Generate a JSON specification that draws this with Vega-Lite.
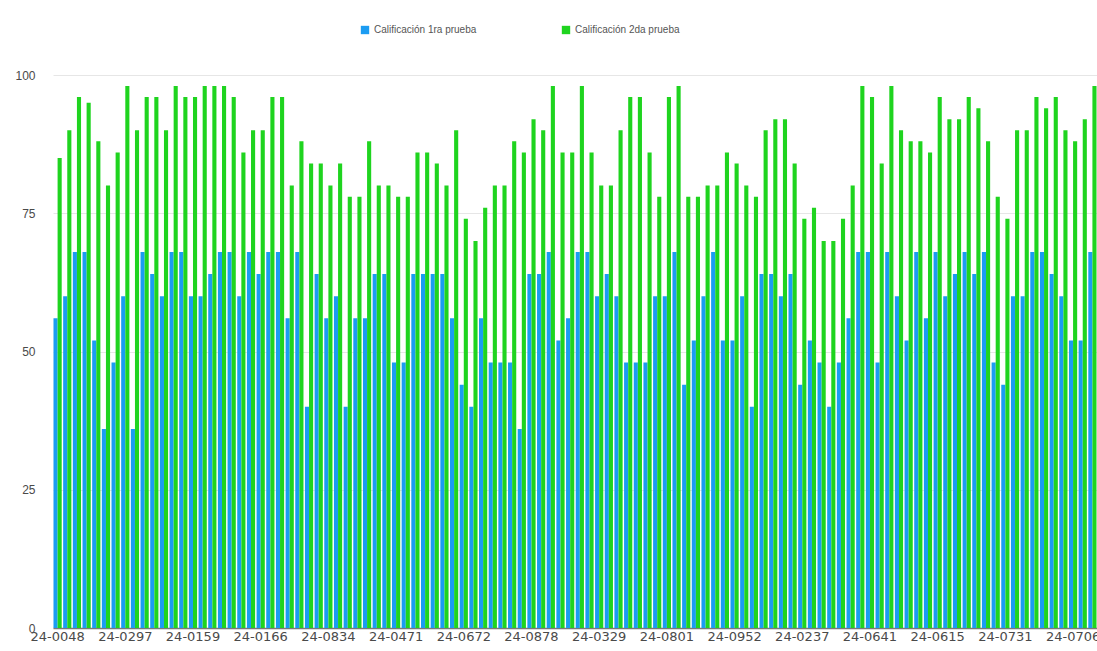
{
  "$schema": "https://vega.github.io/schema/vega-lite/v6.json",
  "width": 1044,
  "height": 553,
  "autosize": {"type": "none"},
  "padding": {"left": 53, "top": 75, "right": 0, "bottom": 23},
  "background": "white",
  "config": {
    "font": "Liberation Sans",
    "view": {"stroke": null}
  },
  "data": {
    "values": [
      {"id": "24-0048", "prueba1": 56, "prueba2": 85},
      {"id": "24-0112", "prueba1": 60, "prueba2": 90},
      {"id": "24-0385", "prueba1": 68, "prueba2": 96},
      {"id": "24-0520", "prueba1": 68, "prueba2": 95},
      {"id": "24-0063", "prueba1": 52, "prueba2": 88},
      {"id": "24-0741", "prueba1": 36, "prueba2": 80},
      {"id": "24-0219", "prueba1": 48, "prueba2": 86},
      {"id": "24-0297", "prueba1": 60, "prueba2": 98},
      {"id": "24-0903", "prueba1": 36, "prueba2": 90},
      {"id": "24-0456", "prueba1": 68, "prueba2": 96},
      {"id": "24-0177", "prueba1": 64, "prueba2": 96},
      {"id": "24-0612", "prueba1": 60, "prueba2": 90},
      {"id": "24-0830", "prueba1": 68, "prueba2": 98},
      {"id": "24-0094", "prueba1": 68, "prueba2": 96},
      {"id": "24-0159", "prueba1": 60, "prueba2": 96},
      {"id": "24-0348", "prueba1": 60, "prueba2": 98},
      {"id": "24-0567", "prueba1": 64, "prueba2": 98},
      {"id": "24-0725", "prueba1": 68, "prueba2": 98},
      {"id": "24-0281", "prueba1": 68, "prueba2": 96},
      {"id": "24-0914", "prueba1": 60, "prueba2": 86},
      {"id": "24-0403", "prueba1": 68, "prueba2": 90},
      {"id": "24-0166", "prueba1": 64, "prueba2": 90},
      {"id": "24-0058", "prueba1": 68, "prueba2": 96},
      {"id": "24-0692", "prueba1": 68, "prueba2": 96},
      {"id": "24-0247", "prueba1": 56, "prueba2": 80},
      {"id": "24-0819", "prueba1": 68, "prueba2": 88},
      {"id": "24-0136", "prueba1": 40, "prueba2": 84},
      {"id": "24-0574", "prueba1": 64, "prueba2": 84},
      {"id": "24-0834", "prueba1": 56, "prueba2": 80},
      {"id": "24-0365", "prueba1": 60, "prueba2": 84},
      {"id": "24-0987", "prueba1": 40, "prueba2": 78},
      {"id": "24-0202", "prueba1": 56, "prueba2": 78},
      {"id": "24-0648", "prueba1": 56, "prueba2": 88},
      {"id": "24-0071", "prueba1": 64, "prueba2": 80},
      {"id": "24-0513", "prueba1": 64, "prueba2": 80},
      {"id": "24-0471", "prueba1": 48, "prueba2": 78},
      {"id": "24-0880", "prueba1": 48, "prueba2": 78},
      {"id": "24-0125", "prueba1": 64, "prueba2": 86},
      {"id": "24-0739", "prueba1": 64, "prueba2": 86},
      {"id": "24-0394", "prueba1": 64, "prueba2": 84},
      {"id": "24-0956", "prueba1": 64, "prueba2": 80},
      {"id": "24-0268", "prueba1": 56, "prueba2": 90},
      {"id": "24-0672", "prueba1": 44, "prueba2": 74},
      {"id": "24-0417", "prueba1": 40, "prueba2": 70},
      {"id": "24-0083", "prueba1": 56, "prueba2": 76},
      {"id": "24-0790", "prueba1": 48, "prueba2": 80},
      {"id": "24-0539", "prueba1": 48, "prueba2": 80},
      {"id": "24-0301", "prueba1": 48, "prueba2": 88},
      {"id": "24-0962", "prueba1": 36, "prueba2": 86},
      {"id": "24-0878", "prueba1": 64, "prueba2": 92},
      {"id": "24-0146", "prueba1": 64, "prueba2": 90},
      {"id": "24-0605", "prueba1": 68, "prueba2": 98},
      {"id": "24-0233", "prueba1": 52, "prueba2": 86},
      {"id": "24-0771", "prueba1": 56, "prueba2": 86},
      {"id": "24-0488", "prueba1": 68, "prueba2": 98},
      {"id": "24-0019", "prueba1": 68, "prueba2": 86},
      {"id": "24-0329", "prueba1": 60, "prueba2": 80},
      {"id": "24-0654", "prueba1": 64, "prueba2": 80},
      {"id": "24-0190", "prueba1": 60, "prueba2": 90},
      {"id": "24-0842", "prueba1": 48, "prueba2": 96},
      {"id": "24-0377", "prueba1": 48, "prueba2": 96},
      {"id": "24-0528", "prueba1": 48, "prueba2": 86},
      {"id": "24-0905", "prueba1": 60, "prueba2": 78},
      {"id": "24-0801", "prueba1": 60, "prueba2": 96},
      {"id": "24-0263", "prueba1": 68, "prueba2": 98},
      {"id": "24-0439", "prueba1": 44, "prueba2": 78},
      {"id": "24-0087", "prueba1": 52, "prueba2": 78},
      {"id": "24-0716", "prueba1": 60, "prueba2": 80},
      {"id": "24-0352", "prueba1": 68, "prueba2": 80},
      {"id": "24-0594", "prueba1": 52, "prueba2": 86},
      {"id": "24-0952", "prueba1": 52, "prueba2": 84},
      {"id": "24-0128", "prueba1": 60, "prueba2": 80},
      {"id": "24-0683", "prueba1": 40, "prueba2": 78},
      {"id": "24-0410", "prueba1": 64, "prueba2": 90},
      {"id": "24-0857", "prueba1": 64, "prueba2": 92},
      {"id": "24-0031", "prueba1": 60, "prueba2": 92},
      {"id": "24-0549", "prueba1": 64, "prueba2": 84},
      {"id": "24-0237", "prueba1": 44, "prueba2": 74},
      {"id": "24-0926", "prueba1": 52, "prueba2": 76},
      {"id": "24-0174", "prueba1": 48, "prueba2": 70},
      {"id": "24-0468", "prueba1": 40, "prueba2": 70},
      {"id": "24-0808", "prueba1": 48, "prueba2": 74},
      {"id": "24-0295", "prueba1": 56, "prueba2": 80},
      {"id": "24-0633", "prueba1": 68, "prueba2": 98},
      {"id": "24-0641", "prueba1": 68, "prueba2": 96},
      {"id": "24-0051", "prueba1": 48, "prueba2": 84},
      {"id": "24-0387", "prueba1": 68, "prueba2": 98},
      {"id": "24-0759", "prueba1": 60, "prueba2": 90},
      {"id": "24-0214", "prueba1": 52, "prueba2": 88},
      {"id": "24-0970", "prueba1": 68, "prueba2": 88},
      {"id": "24-0442", "prueba1": 56, "prueba2": 86},
      {"id": "24-0615", "prueba1": 68, "prueba2": 96},
      {"id": "24-0106", "prueba1": 60, "prueba2": 92},
      {"id": "24-0581", "prueba1": 64, "prueba2": 92},
      {"id": "24-0327", "prueba1": 68, "prueba2": 96},
      {"id": "24-0864", "prueba1": 64, "prueba2": 94},
      {"id": "24-0199", "prueba1": 68, "prueba2": 88},
      {"id": "24-0502", "prueba1": 48, "prueba2": 78},
      {"id": "24-0731", "prueba1": 44, "prueba2": 74},
      {"id": "24-0045", "prueba1": 60, "prueba2": 90},
      {"id": "24-0668", "prueba1": 60, "prueba2": 90},
      {"id": "24-0915", "prueba1": 68, "prueba2": 96},
      {"id": "24-0256", "prueba1": 68, "prueba2": 94},
      {"id": "24-0783", "prueba1": 64, "prueba2": 96},
      {"id": "24-0420", "prueba1": 60, "prueba2": 90},
      {"id": "24-0706", "prueba1": 52, "prueba2": 88},
      {"id": "24-0139", "prueba1": 52, "prueba2": 92},
      {"id": "24-0597", "prueba1": 68, "prueba2": 98}
    ]
  },
  "transform": [
    {"fold": ["prueba1", "prueba2"], "as": ["serie", "valor"]}
  ],
  "mark": {"type": "bar"},
  "encoding": {
    "x": {
      "field": "id",
      "type": "nominal",
      "sort": null,
      "scale": {"paddingInner": 0.15, "paddingOuter": 0.05},
      "axis": {
        "values": ["24-0048", "24-0297", "24-0159", "24-0166", "24-0834", "24-0471", "24-0672", "24-0878", "24-0329", "24-0801", "24-0952", "24-0237", "24-0641", "24-0615", "24-0731", "24-0706"],
        "labelAngle": 0,
        "title": null,
        "ticks": false,
        "domainColor": "#7a7a7a",
        "domainWidth": 1.5,
        "labelFont": "DejaVu Sans",
        "labelFontSize": 13,
        "labelColor": "#4a4a4a",
        "labelPadding": 2,
        "labelOverlap": false
      }
    },
    "xOffset": {"field": "serie", "type": "nominal", "scale": {"domain": ["prueba1", "prueba2"]}},
    "y": {
      "field": "valor",
      "type": "quantitative",
      "scale": {"domain": [0, 100], "nice": false},
      "axis": {
        "values": [0, 25, 50, 75, 100],
        "title": null,
        "domain": false,
        "ticks": false,
        "gridColor": "#e6e6e6",
        "labelFontSize": 12,
        "labelColor": "#4a4a4a",
        "labelPadding": 18
      }
    },
    "color": {
      "field": "serie",
      "type": "nominal",
      "scale": {"domain": ["prueba1", "prueba2"], "range": ["#1b9cf2", "#1fd41f"]},
      "legend": {
        "title": null,
        "orient": "none",
        "direction": "horizontal",
        "legendX": 307,
        "legendY": -50,
        "symbolType": "square",
        "symbolSize": 70,
        "symbolStrokeWidth": 0,
        "labelFontSize": 10,
        "labelColor": "#555555",
        "columnPadding": 84,
        "labelExpr": "datum.label == 'prueba1' ? 'Calificación 1ra prueba' : 'Calificación 2da prueba'"
      }
    }
  }
}
